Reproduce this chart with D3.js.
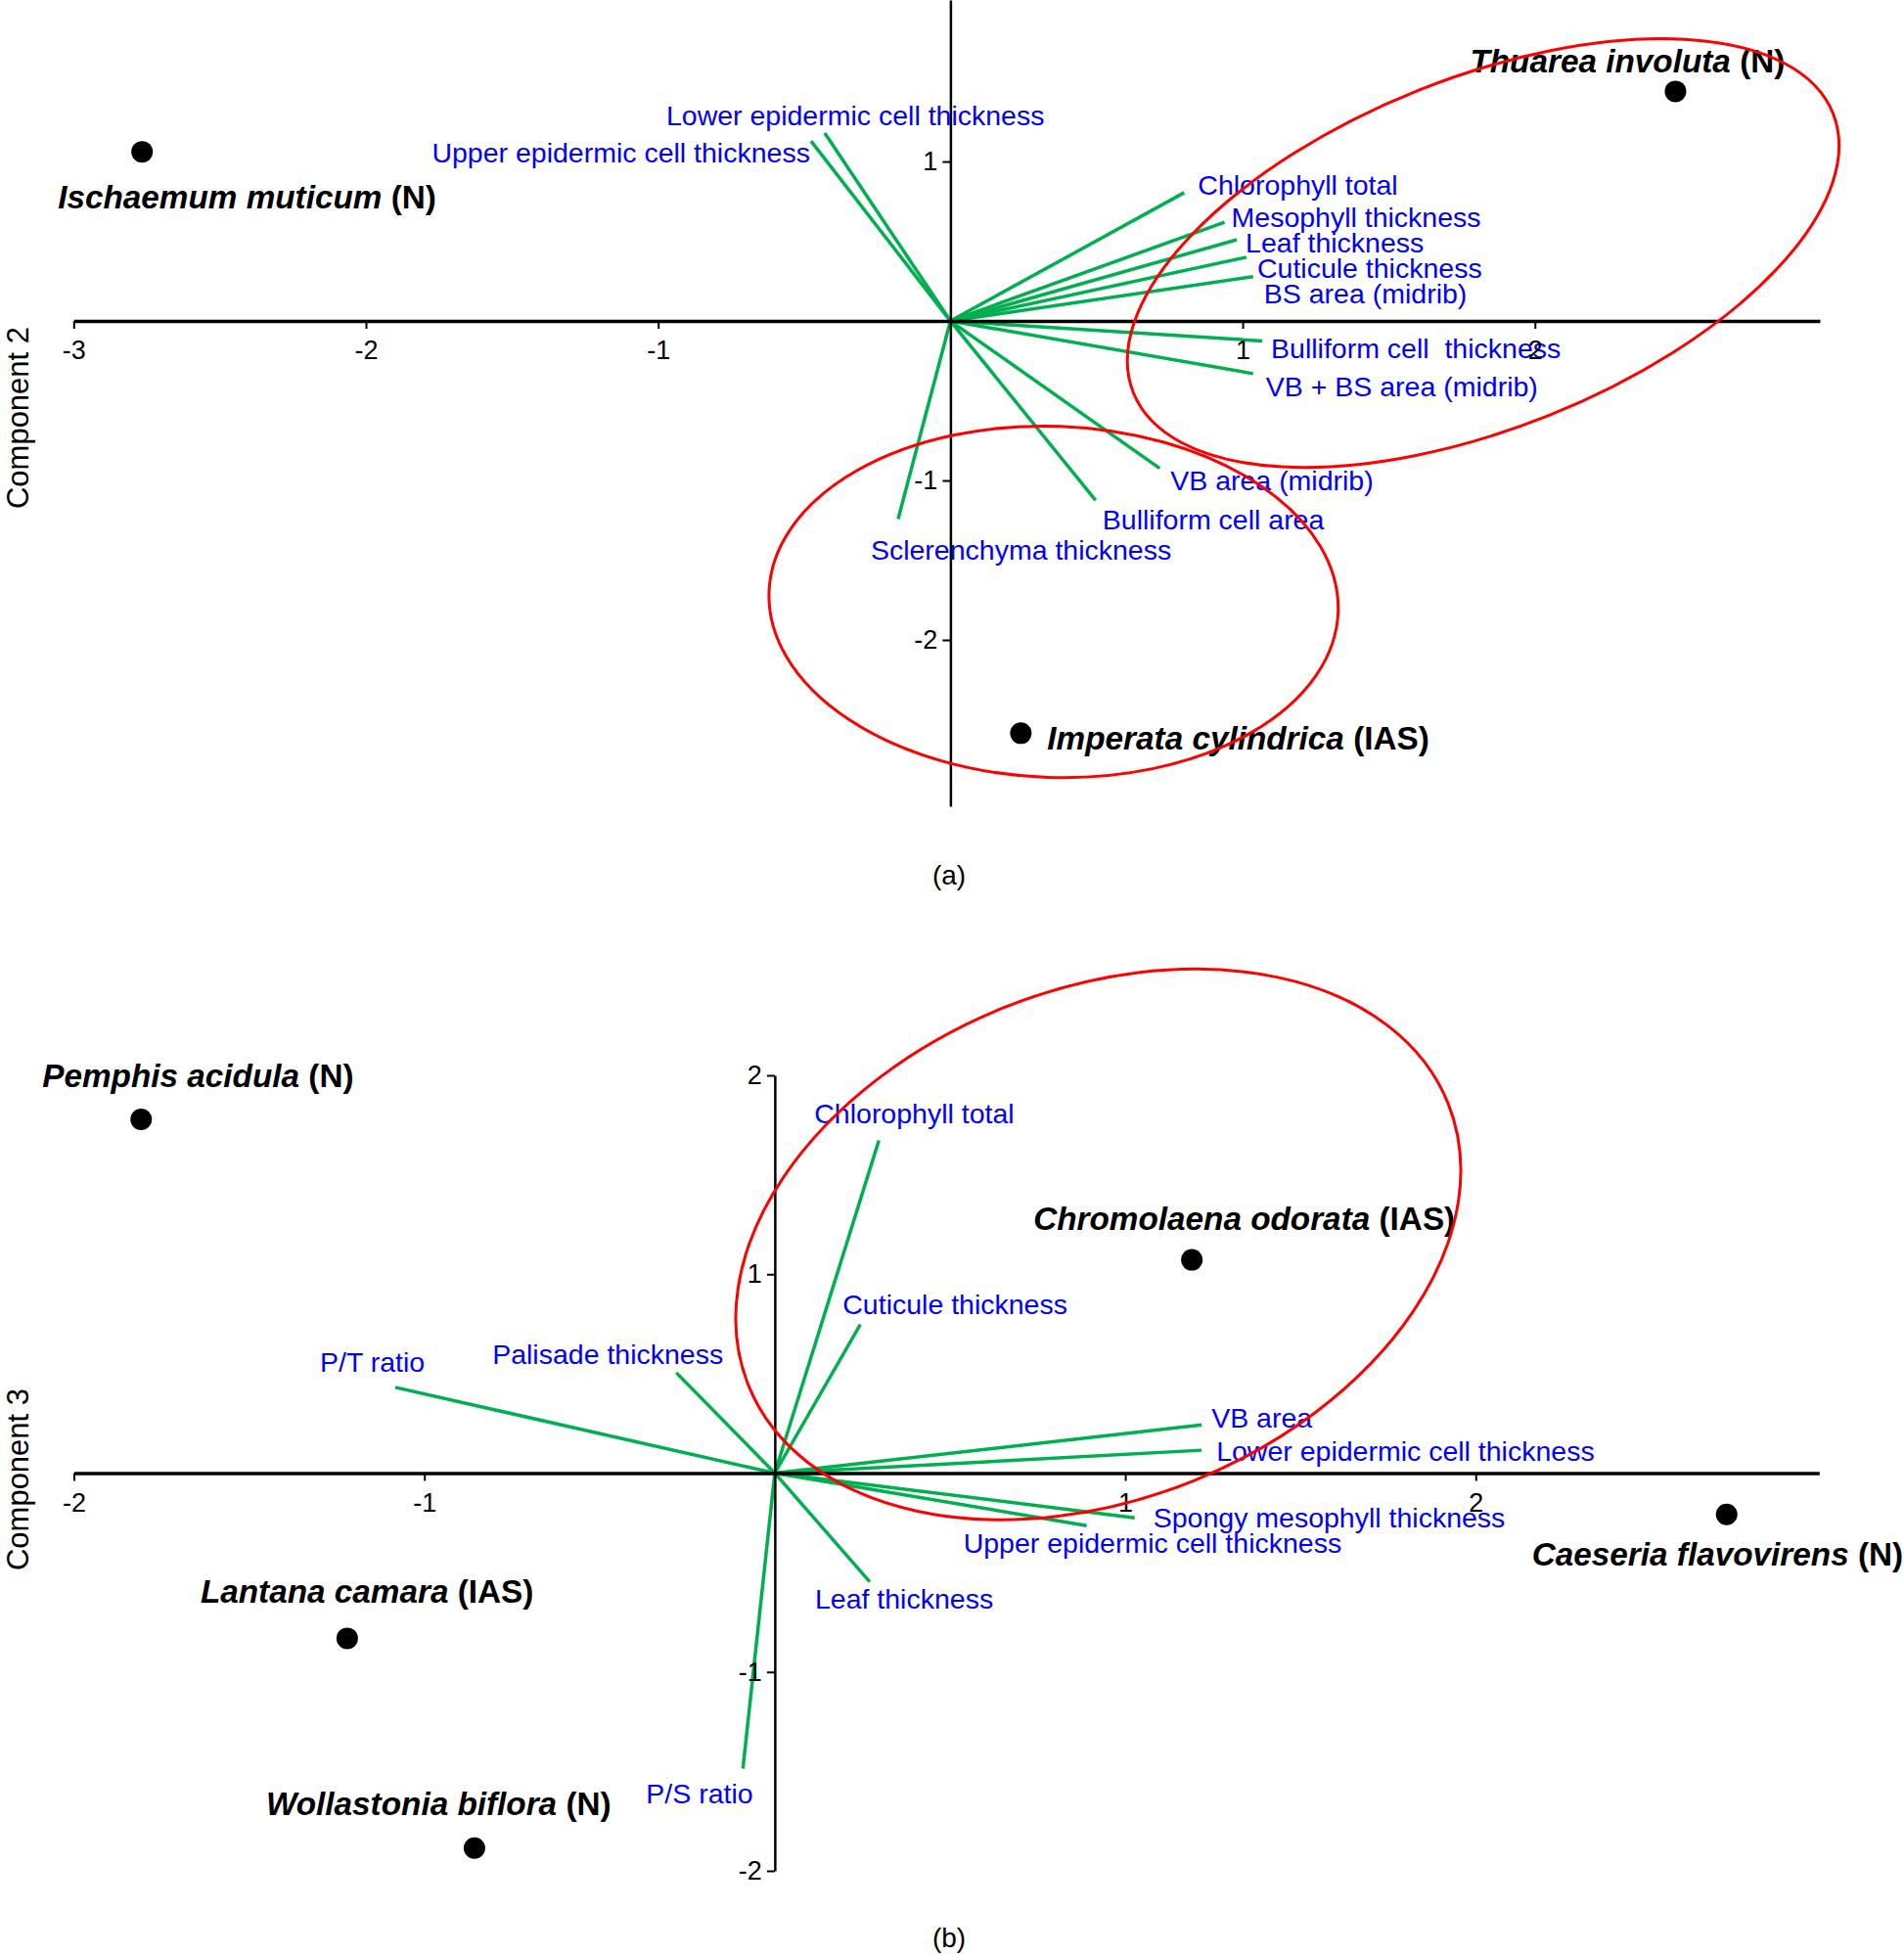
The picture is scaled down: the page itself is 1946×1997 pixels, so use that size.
<!DOCTYPE html>
<html>
<head>
<meta charset="utf-8">
<script src="https://cdn.jsdelivr.net/npm/d3@7"></script>
<style>
  body { margin: 0; background: #fff; }
  text { font-family: "Liberation Sans", Arial, sans-serif; }
</style>
</head>
<body>
<div id="chart"></div>
<script>
// ---- panel (a) data ----
var speciesA = ["Ischaemum muticum", "Thuarea involuta", "Imperata cylindrica"];
var statusA = ["N", "N", "IAS"];
var scoreA_c1 = [-2.766, 2.481, 0.241];
var scoreA_c2 = [1.061, 1.44, -2.585];

var traitsA = ["Upper epidermic cell thickness", "Lower epidermic cell thickness",
  "Chlorophyll total", "Mesophyll thickness", "Leaf thickness", "Cuticule thickness",
  "BS area (midrib)", "Bulliform cell  thickness", "VB + BS area (midrib)",
  "VB area (midrib)", "Bulliform cell area", "Sclerenchyma thickness"];
var loadA_c1 = [-0.477, -0.43, 0.80, 0.938, 0.98, 1.013, 1.036, 1.067, 1.036, 0.716, 0.497, -0.179];
var loadA_c2 = [1.129, 1.178, 0.805, 0.62, 0.51, 0.40, 0.278, -0.125, -0.33, -0.924, -1.125, -1.242];

var xTicksA = [-3, -2, -1, 1, 2];
var yTicksA = [-2, -1, 1];

// ---- panel (b) data ----
var speciesB = ["Pemphis acidula", "Chromolaena odorata", "Caeseria flavovirens", "Lantana camara", "Wollastonia biflora"];
var statusB = ["N", "IAS", "N", "IAS", "N"];
var scoreB_c1 = [-1.808, 1.19, 2.716, -1.22, -0.857];
var scoreB_c3 = [1.779, 1.072, -0.208, -0.831, -1.886];

var traitsB = ["Chlorophyll total", "Cuticule thickness", "Palisade thickness", "P/T ratio",
  "VB area", "Lower epidermic cell thickness", "Spongy mesophyll thickness",
  "Upper epidermic cell thickness", "Leaf thickness", "P/S ratio"];
var loadB_c1 = [0.297, 0.244, -0.281, -1.083, 1.218, 1.218, 1.027, 0.89, 0.271, -0.091];
var loadB_c3 = [1.673, 0.747, 0.505, 0.431, 0.242, 0.115, -0.225, -0.264, -0.547, -1.486];

var xTicksB = [-2, -1, 1, 2];
var yTicksB = [-2, -1, 1, 2];

// label placement (pixel offsets from the end of each vector / each point)
var traitOffA = [[-1, 22, "end"], [-162, -8], [14, 2], [7, 5], [9, 13], [11, 21], [11, 27],
  [9, 18], [13, 23], [11, 22], [7, 30], [-28, 42]];
var traitOffB = [[-66, -17], [-18, -11], [48, -9, "end"], [-77, -16], [10, 3], [15, 11],
  [19, 10], [-126, 28], [-56, 27], [-99, 35]];
var speciesOffA = [[-86, 58], [-210, -19], [27, 17]];
var speciesOffB = [[-101, -33], [-162, -31], [-199, 52], [-150, -36], [-213, -34]];

// red grouping ellipses: centre in data units, radii in px, rotation in degrees
var ellipsesA = [
  {cx: 1.823, cy: 0.426, rx: 385, ry: 179, rot: -21.75},
  {cx: 0.353, cy: -1.761, rx: 291, ry: 179.5, rot: 2}
];
var ellipsesB = [
  {cx: 0.923, cy: 1.15, rx: 385.5, ry: 260.5, rot: -22}
];

var W = 1946, H = 1997;
var green = "#00b050", blue = "#0000ff", red = "#ff0000";

var svg = d3.select("#chart").append("svg")
  .attr("width", W).attr("height", H);

function biplot(o) {
  var g = svg.append("g");
  var x = o.x, y = o.y;
  var x0 = x(0), y0 = y(0);

  // vectors
  g.append("g").selectAll("line")
    .data(o.traits).enter().append("line")
      .attr("x1", x0).attr("y1", y0)
      .attr("x2", function(d, i) { return x(o.lx[i]); })
      .attr("y2", function(d, i) { return y(o.ly[i]); })
      .attr("stroke", green).attr("stroke-width", 3.5);

  // vector labels
  g.append("g").selectAll("text")
    .data(o.traits).enter().append("text")
      .attr("x", function(d, i) { return x(o.lx[i]) + o.toff[i][0]; })
      .attr("y", function(d, i) { return y(o.ly[i]) + o.toff[i][1]; })
      .attr("text-anchor", function(d, i) { return o.toff[i][2] || "start"; })
      .style("white-space", "pre")
      .attr("fill", blue)
      .attr("font-size", "28.5px")
      .text(function(d) { return d; });

  // axes through the origin
  var xAxisG = g.append("g")
    .attr("transform", "translate(0," + y0 + ")")
    .call(d3.axisBottom(x).tickValues(o.xTicks).tickSize(8).tickSizeOuter(0)
      .tickPadding(12).tickFormat(function(d) { return String(d); }));
  var yAxisG = g.append("g")
    .attr("transform", "translate(" + x0 + ",0)")
    .call(d3.axisLeft(y).tickValues(o.yTicks).tickSize(8).tickSizeOuter(0)
      .tickPadding(5).tickFormat(function(d) { return String(d); }));
  xAxisG.select(".domain").attr("stroke-width", 3.5);
  yAxisG.select(".domain").attr("stroke-width", 2.5);
  [xAxisG, yAxisG].forEach(function(a) {
    a.selectAll(".tick line").attr("stroke-width", 2);
    a.selectAll(".tick text")
      .attr("font-size", "27px")
      .attr("font-family", "Liberation Sans, Arial, sans-serif")
      .attr("fill", "#000");
  });

  // species points
  g.append("g").selectAll("circle")
    .data(o.species).enter().append("circle")
      .attr("cx", function(d, i) { return x(o.sx[i]); })
      .attr("cy", function(d, i) { return y(o.sy[i]); })
      .attr("r", 11)
      .attr("fill", "#000");

  var lab = g.append("g").selectAll("text")
    .data(o.species).enter().append("text")
      .attr("x", function(d, i) { return x(o.sx[i]) + o.soff[i][0]; })
      .attr("y", function(d, i) { return y(o.sy[i]) + o.soff[i][1]; })
      .attr("font-size", "33.3px")
      .attr("font-weight", "bold")
      .attr("fill", "#000");
  lab.append("tspan").attr("font-style", "italic").text(function(d) { return d; });
  lab.append("tspan").style("white-space", "pre").text(function(d, i) { return " (" + o.status[i] + ")"; });

  // ellipses
  g.append("g").selectAll("ellipse")
    .data(o.ellipses).enter().append("ellipse")
      .attr("transform", function(d) {
        return "translate(" + x(d.cx) + "," + y(d.cy) + ") rotate(" + d.rot + ")";
      })
      .attr("rx", function(d) { return d.rx; })
      .attr("ry", function(d) { return d.ry; })
      .attr("fill", "none")
      .attr("stroke", red)
      .attr("stroke-width", 3);

  // axis title
  g.append("text")
    .attr("transform", "translate(29," + o.titleY + ") rotate(-90)")
    .attr("text-anchor", "middle")
    .attr("font-size", "31px")
    .attr("fill", "#000")
    .text(o.title);

  // panel letter
  g.append("text")
    .attr("x", 970).attr("y", o.letterY)
    .attr("text-anchor", "middle")
    .attr("font-size", "28px")
    .attr("fill", "#000")
    .text(o.letter);
}

biplot({
  x: d3.scaleLinear().domain([-3, 2.975]).range([75.3, 1860]),
  y: d3.scaleLinear().domain([2.013, -3.043]).range([0, 824]),
  traits: traitsA, lx: loadA_c1, ly: loadA_c2, toff: traitOffA,
  species: speciesA, status: statusA, sx: scoreA_c1, sy: scoreA_c2, soff: speciesOffA,
  xTicks: xTicksA, yTicks: yTicksA, ellipses: ellipsesA,
  title: "Component 2", titleY: 427, letter: "(a)", letterY: 904
});

biplot({
  x: d3.scaleLinear().domain([-2, 2.98]).range([75.5, 1859.3]),
  y: d3.scaleLinear().domain([2, -2]).range([1099, 1912]),
  traits: traitsB, lx: loadB_c1, ly: loadB_c3, toff: traitOffB,
  species: speciesB, status: statusB, sx: scoreB_c1, sy: scoreB_c3, soff: speciesOffB,
  xTicks: xTicksB, yTicks: yTicksB, ellipses: ellipsesB,
  title: "Component 3", titleY: 1512, letter: "(b)", letterY: 1990
});
</script>
</body>
</html>
